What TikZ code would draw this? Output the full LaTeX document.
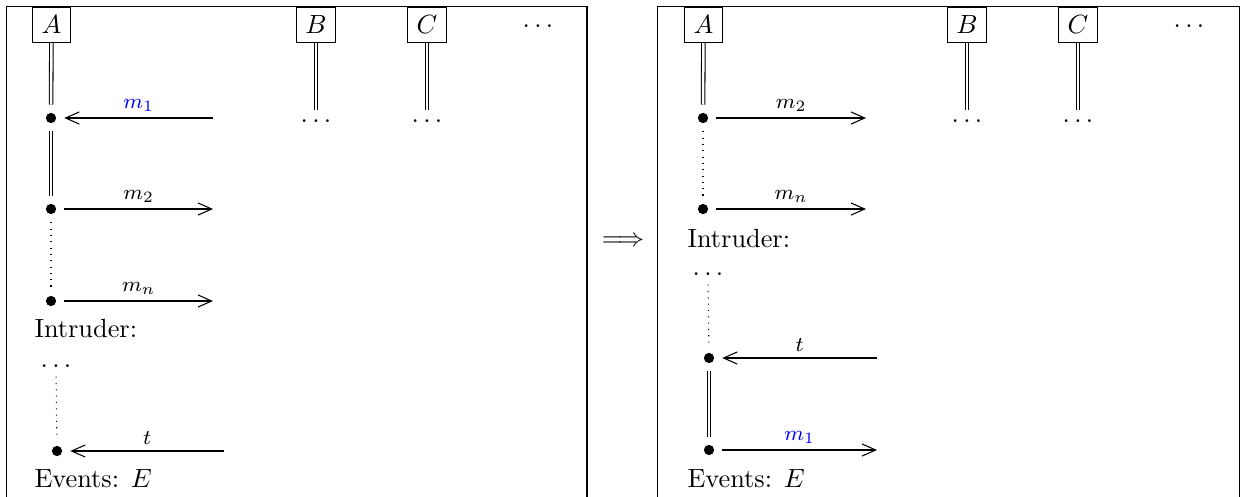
\documentclass[tikz,border=0pt]{standalone}
\usetikzlibrary{arrows.meta}
\begin{document}
\begin{tikzpicture}[x=0.38pt,y=-0.38pt,
  frame/.style={draw, line width=0.4pt},
  agent/.style={draw, inner sep=3.33pt, anchor=north},
  life/.style={double, double distance=0.95pt},
  evt/.style={circle, fill, inner sep=0pt, minimum size=3.9pt, outer sep=3.1pt},
  msg/.style={-{Straight Barb[length=5.2pt,width=4.6pt]}},
  lbl/.style={font=\footnotesize, above, inner sep=2.4pt},
  txt/.style={anchor=base west, inner sep=0pt},
  more/.style={inner sep=3.33pt}]
\useasboundingbox (0,0) rectangle (1240,496);

% two frames
\draw[frame] (6.5,500) |- (587,6.5) -- (587,500);
\draw[frame] (657.5,500) |- (1239.5,6.5) -- (1239.5,500);

% implication
\node (impl) at (623,242) {$\Longrightarrow$};

% ---------- left panel ----------
\node[agent] (A1) at (51.5,6.5) {$A$};
\node[agent] (B1) at (316,6.5) {$B$};
\node[agent] (C1) at (427,6.5) {$C$};
\node (top1) at (538,26) {$\dots$};
\node[more] (Bd1) at (316,121) {$\dots$};
\node[more] (Cd1) at (427,121) {$\dots$};
\draw[life] (B1) -- (Bd1);
\draw[life] (C1) -- (Cd1);

\node[evt] (a1) at (51,118) {};
\node[evt] (a2) at (51,209) {};
\node[evt] (a3) at (51,301) {};
\coordinate (r1) at (213,118);
\coordinate (r2) at (213,209);
\coordinate (r3) at (213,301);
\draw[life] (A1) -- (a1);
\draw[life] (a1) -- (a2);
\draw[dotted] (a2) -- (a3);
\draw[msg] (r1) -- node[lbl, text=blue] {$m_1$} (a1);
\draw[msg] (a2) -- node[lbl] {$m_2$} (r2);
\draw[msg] (a3) -- node[lbl] {$m_n$} (r3);

\node[txt] (intr1) at (34,337) {Intruder:};
\node[more] (id1) at (56,366) {$\dots$};
\node[evt] (i1) at (57,451) {};
\coordinate (ri1) at (224,451);
\draw[dotted] (id1) -- (i1);
\draw[msg] (ri1) -- node[lbl] {$t$} (i1);
\node[txt] (ev1) at (34,487) {Events: $E$};

% ---------- right panel ----------
\node[agent] (A2) at (703.5,6.5) {$A$};
\node[agent] (B2) at (967,6.5) {$B$};
\node[agent] (C2) at (1078,6.5) {$C$};
\node (top2) at (1189,26) {$\dots$};
\node[more] (Bd2) at (967,121) {$\dots$};
\node[more] (Cd2) at (1078,121) {$\dots$};
\draw[life] (B2) -- (Bd2);
\draw[life] (C2) -- (Cd2);

\node[evt] (b1) at (703,118) {};
\node[evt] (b2) at (703,209) {};
\coordinate (s1) at (866,118);
\coordinate (s2) at (866,209);
\draw[life] (A2) -- (b1);
\draw[dotted] (b1) -- (b2);
\draw[msg] (b1) -- node[lbl] {$m_2$} (s1);
\draw[msg] (b2) -- node[lbl] {$m_n$} (s2);

\node[txt] (intr2) at (687,247) {Intruder:};
\node[more] (id2) at (708,274) {$\dots$};
\node[evt] (j1) at (709,358) {};
\node[evt] (j2) at (709,450) {};
\coordinate (sj1) at (877,358);
\coordinate (sj2) at (877,450);
\draw[dotted] (id2) -- (j1);
\draw[life] (j1) -- (j2);
\draw[msg] (sj1) -- node[lbl] {$t$} (j1);
\draw[msg] (j2) -- node[lbl, text=blue] {$m_1$} (sj2);
\node[txt] (ev2) at (687,487) {Events: $E$};
\end{tikzpicture}
\end{document}
